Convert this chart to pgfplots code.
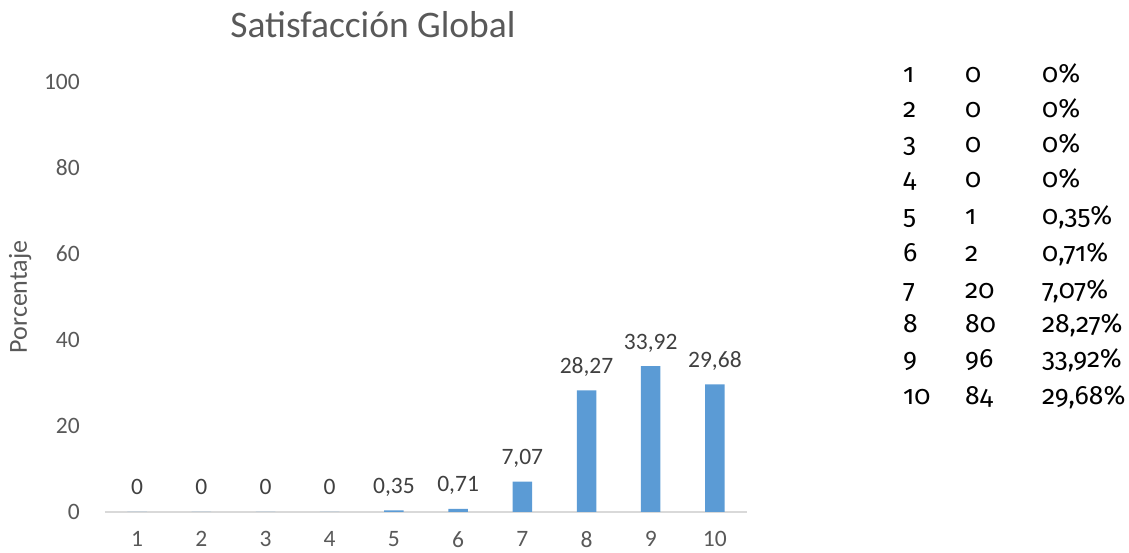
\documentclass[border=0pt]{standalone}
\usepackage{fontspec}
\setmainfont{Carlito}
\newfontfamily\tabfont[Numbers=OldStyle]{Fira Sans}
\usepackage{pgfplots}
\pgfplotsset{compat=1.18}
\definecolor{barblue}{HTML}{5B9BD5}
\definecolor{txtgray}{HTML}{595959}
\definecolor{lblgray}{HTML}{404040}
\definecolor{axgray}{HTML}{D9D9D9}
\begin{document}
\begin{tikzpicture}[x=1pt,y=1pt]
\useasboundingbox (0,0) rectangle (1129,553);
\begin{axis}[
  at={(105pt,41pt)}, anchor=origin,
  scale only axis, width=642pt, height=430pt,
  xmin=0.5, xmax=10.5, ymin=0, ymax=100,
  axis x line*=bottom, axis y line*=left,
  x axis line style={draw=axgray, line width=1.2pt},
  y axis line style={draw=none},
  xtick={1,...,10}, ytick={0,20,...,100},
  major tick length=0pt,
  /pgf/number format/assume math mode=true,
  tick label style={font=\fontsize{23.5}{28}\selectfont, text=txtgray},
  xticklabel style={anchor=north, inner sep=0pt, yshift=-19pt},
  yticklabel style={anchor=east, inner sep=0pt, xshift=-25pt},
  ybar, bar width=19.5pt,
  title={Satisfacción Global},
  title style={at={(axis description cs:0.4174,1)}, anchor=center, yshift=51pt,
    font=\fontsize{37.5}{42}\selectfont, text=txtgray},
  ylabel={Porcentaje},
  every axis y label/.style={at={(axis description cs:-0.132,0.5)}, rotate=90, anchor=center,
    font=\fontsize{26}{30}\selectfont, text=txtgray},
  nodes near coords,
  nodes near coords style={font=\fontsize{23.5}{28}\selectfont, text=lblgray,
    anchor=base, inner sep=0pt, yshift=17pt,
    /pgf/number format/.cd, use comma, fixed, precision=2, assume math mode=true},
]
\addplot[fill=barblue, draw=none] coordinates {
 (1,0) (2,0) (3,0) (4,0) (5,0.35) (6,0.71) (7,7.07) (8,28.27) (9,33.92) (10,29.68)};
\end{axis}
\begin{scope}[every node/.style={anchor=base west, inner sep=0pt, font=\tabfont\fontsize{26.5}{30}\selectfont}]
\node at (903,{553-83}) {1};   \node at (965,{553-83}) {0};  \node at (1042,{553-83}) {0\%};
\node at (903,{553-118}) {2};  \node at (965,{553-118}) {0}; \node at (1042,{553-118}) {0\%};
\node at (903,{553-153}) {3};  \node at (965,{553-153}) {0}; \node at (1042,{553-153}) {0\%};
\node at (903,{553-188}) {4};  \node at (965,{553-188}) {0}; \node at (1042,{553-188}) {0\%};
\node at (903,{553-225}) {5};  \node at (965,{553-225}) {1}; \node at (1042,{553-225}) {0,35\%};
\node at (903,{553-262}) {6};  \node at (965,{553-262}) {2}; \node at (1042,{553-262}) {0,71\%};
\node at (903,{553-299}) {7};  \node at (965,{553-299}) {20}; \node at (1042,{553-299}) {7,07\%};
\node at (903,{553-333}) {8};  \node at (965,{553-333}) {80}; \node at (1042,{553-333}) {28,27\%};
\node at (903,{553-368}) {9};  \node at (965,{553-368}) {96}; \node at (1042,{553-368}) {33,92\%};
\node at (903,{553-405}) {10}; \node at (965,{553-405}) {84}; \node at (1042,{553-405}) {29,68\%};
\end{scope}
\end{tikzpicture}
\end{document}
